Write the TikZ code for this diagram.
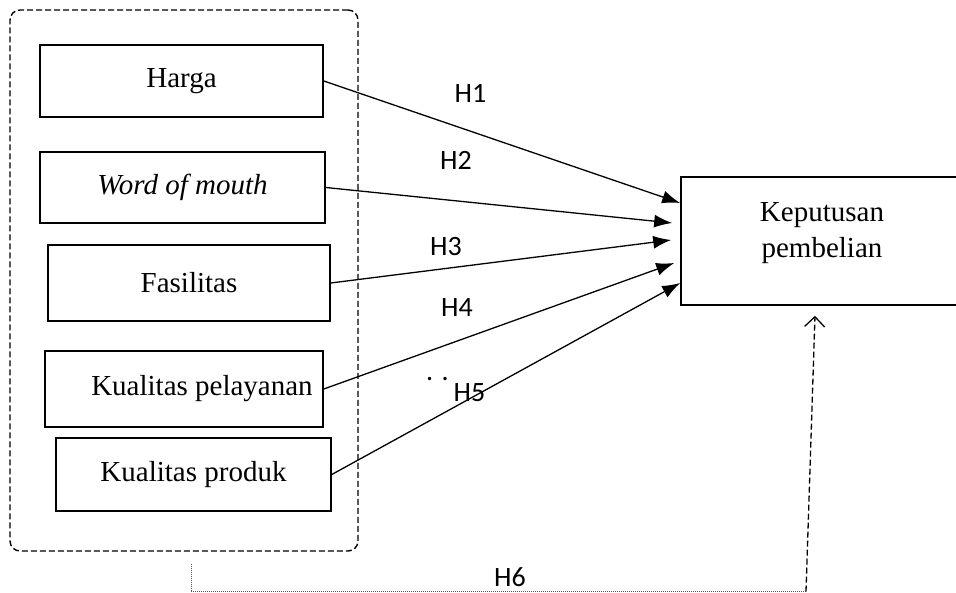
\documentclass[tikz,border=0pt]{standalone}
\usepackage{fontspec}
\setmainfont{Liberation Serif}
\newfontfamily\hfont{Carlito}
\usetikzlibrary{arrows.meta}

\begin{document}
\begin{tikzpicture}[x=1pt,y=-1pt,
    varbox/.style={draw, line width=1.6pt, inner sep=0pt, font=\fontsize{29}{34}\selectfont},
    hyp/.style={line width=1.3pt, -{Latex[length=18pt,width=13pt]}},
    hlabel/.style={font=\hfont\fontsize{28}{30}\selectfont, inner sep=0pt}]

    \useasboundingbox (0,0) rectangle (956,593);
    \clip (0,0) rectangle (956,593);

    % Define colors
    \definecolor{dotgray}{RGB}{90,90,90}

    % group of independent variables
    \node[draw, line width=1.4pt, dash pattern=on 6pt off 3pt, rounded corners=10pt,
          minimum width=348pt, minimum height=541pt] (grp) at (184,280.5) {};

    \node[varbox, minimum width=283pt, minimum height=72pt] (harga) at (181.5,81) {Harga};
    \node[varbox, minimum width=285pt, minimum height=71pt] (wom) at (182.5,187.5) {\itshape Word of mouth};
    \node[varbox, minimum width=282pt, minimum height=76pt] (fas) at (189,283) {Fasilitas};
    \node[varbox, minimum width=278pt, minimum height=76pt] (kpel) at (184,389) {\hspace*{36pt}Kualitas pelayanan};
    \node[varbox, minimum width=275pt, minimum height=73pt] (kprod) at (193.5,474.5) {Kualitas produk};

    % dependent variable
    \node[varbox, minimum width=300pt, minimum height=128pt] (kp) at (831,241) {};
    \node[font=\fontsize{29}{36}\selectfont, align=center, anchor=base] (kptext) at (822,258) {Keputusan\\pembelian};

    \draw[hyp] (harga.east) -- ([yshift=38pt]kp.west);
    \draw[hyp] (wom.east) -- ([xshift=-8pt,yshift=18pt]kp.west);
    \draw[hyp] (fas.east) -- ([xshift=-9pt,yshift=1pt]kp.west);
    \draw[hyp] (kpel.east) -- ([xshift=-6pt,yshift=-22pt]kp.west);
    \draw[hyp] (kprod.east) -- ([yshift=-42pt]kp.west);

    \node[hlabel] (h1) at (470.5,93) {H1};
    \node[hlabel] (h2) at (456,160) {H2};
    \node[hlabel] (h3) at (446,247) {H3};
    \node[hlabel] (h4) at (457,308) {H4};
    \node[hlabel] (h5) at (469.5,393) {H5};
    \node[hlabel, anchor=base] (dots) at (437.5,381) {. .};

    % simultaneous path
    \coordinate (h6a) at ([xshift=7pt,yshift=-12pt]grp.south);
    \coordinate (h6b) at (806,591.5);
    \draw[dotgray, line width=1pt, dash pattern=on 1pt off 1pt] (h6a) |- (h6b);
    \draw[line width=1.3pt, dash pattern=on 6pt off 3pt, -{Straight Barb[length=10pt,width=20pt]}]
        (h6b) -- ([xshift=-16pt,yshift=-10pt]kp.south);
    \node[hlabel] (h6) at (510,577) {H6};

\end{tikzpicture}
\end{document}
